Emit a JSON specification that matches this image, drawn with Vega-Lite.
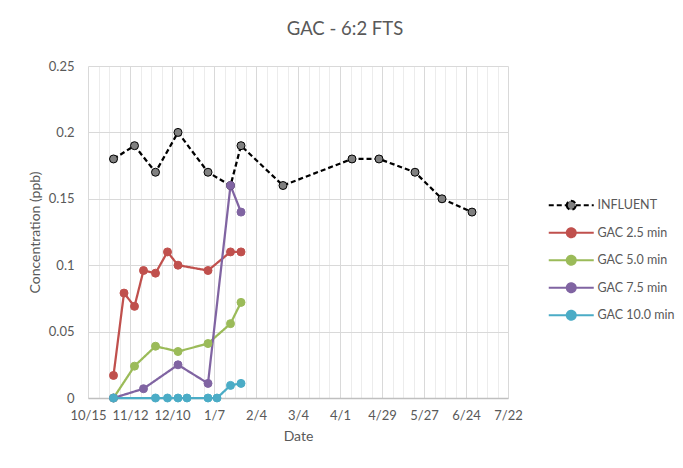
{
  "$schema": "https://vega.github.io/schema/vega-lite/v6.json",
  "width": 420,
  "height": 332,
  "autosize": {"type": "none"},
  "padding": {"left": 88, "top": 66, "right": 175, "bottom": 70},
  "background": "white",
  "config": {
    "font": "Lato",
    "view": {"stroke": null},
    "axis": {"labelFont": "Lato", "titleFont": "Lato", "labelColor": "#595959", "titleColor": "#595959", "labelFontSize": 13, "titleFontSize": 14, "titleFontWeight": "normal", "ticks": false},
    "legend": {"labelFont": "Lato", "labelColor": "#595959", "labelFontSize": 12.5}
  },
  "title": {"text": "GAC - 6:2 FTS", "font": "Lato", "fontSize": 18.5, "fontWeight": "normal", "color": "#595959", "anchor": "middle", "frame": "group", "dx": 47, "offset": 22},
  "data": {"values": [
    {"series": "INFLUENT", "date": "2014/11/01", "value": 0.18},
    {"series": "INFLUENT", "date": "2014/11/15", "value": 0.19},
    {"series": "INFLUENT", "date": "2014/11/29", "value": 0.17},
    {"series": "INFLUENT", "date": "2014/12/14", "value": 0.20},
    {"series": "INFLUENT", "date": "2015/01/03", "value": 0.17},
    {"series": "INFLUENT", "date": "2015/01/18", "value": 0.16},
    {"series": "INFLUENT", "date": "2015/01/25", "value": 0.19},
    {"series": "INFLUENT", "date": "2015/02/22", "value": 0.16},
    {"series": "INFLUENT", "date": "2015/04/09", "value": 0.18},
    {"series": "INFLUENT", "date": "2015/04/27", "value": 0.18},
    {"series": "INFLUENT", "date": "2015/05/21", "value": 0.17},
    {"series": "INFLUENT", "date": "2015/06/08", "value": 0.15},
    {"series": "INFLUENT", "date": "2015/06/28", "value": 0.14},
    {"series": "GAC 2.5 min", "date": "2014/11/01", "value": 0.017},
    {"series": "GAC 2.5 min", "date": "2014/11/08", "value": 0.079},
    {"series": "GAC 2.5 min", "date": "2014/11/15", "value": 0.069},
    {"series": "GAC 2.5 min", "date": "2014/11/21", "value": 0.096},
    {"series": "GAC 2.5 min", "date": "2014/11/29", "value": 0.094},
    {"series": "GAC 2.5 min", "date": "2014/12/07", "value": 0.11},
    {"series": "GAC 2.5 min", "date": "2014/12/14", "value": 0.10},
    {"series": "GAC 2.5 min", "date": "2015/01/03", "value": 0.096},
    {"series": "GAC 2.5 min", "date": "2015/01/18", "value": 0.11},
    {"series": "GAC 2.5 min", "date": "2015/01/25", "value": 0.11},
    {"series": "GAC 5.0 min", "date": "2014/11/01", "value": 0},
    {"series": "GAC 5.0 min", "date": "2014/11/15", "value": 0.024},
    {"series": "GAC 5.0 min", "date": "2014/11/29", "value": 0.039},
    {"series": "GAC 5.0 min", "date": "2014/12/14", "value": 0.035},
    {"series": "GAC 5.0 min", "date": "2015/01/03", "value": 0.041},
    {"series": "GAC 5.0 min", "date": "2015/01/18", "value": 0.056},
    {"series": "GAC 5.0 min", "date": "2015/01/25", "value": 0.072},
    {"series": "GAC 7.5 min", "date": "2014/11/01", "value": 0},
    {"series": "GAC 7.5 min", "date": "2014/11/21", "value": 0.007},
    {"series": "GAC 7.5 min", "date": "2014/12/14", "value": 0.025},
    {"series": "GAC 7.5 min", "date": "2015/01/03", "value": 0.011},
    {"series": "GAC 7.5 min", "date": "2015/01/18", "value": 0.16},
    {"series": "GAC 7.5 min", "date": "2015/01/25", "value": 0.14},
    {"series": "GAC 10.0 min", "date": "2014/11/01", "value": 0},
    {"series": "GAC 10.0 min", "date": "2014/11/29", "value": 0},
    {"series": "GAC 10.0 min", "date": "2014/12/07", "value": 0},
    {"series": "GAC 10.0 min", "date": "2014/12/14", "value": 0},
    {"series": "GAC 10.0 min", "date": "2014/12/20", "value": 0},
    {"series": "GAC 10.0 min", "date": "2015/01/03", "value": 0},
    {"series": "GAC 10.0 min", "date": "2015/01/09", "value": 0},
    {"series": "GAC 10.0 min", "date": "2015/01/18", "value": 0.0095},
    {"series": "GAC 10.0 min", "date": "2015/01/25", "value": 0.011}
  ]},
  "encoding": {
    "x": {
      "field": "date", "type": "temporal", "title": "Date",
      "scale": {"domain": [{"year": 2014, "month": 10, "date": 15}, {"year": 2015, "month": 7, "date": 22}], "nice": false},
      "axis": {
        "values": [
          {"year": 2014, "month": 10, "date": 15}, {"year": 2014, "month": 10, "date": 22}, {"year": 2014, "month": 10, "date": 29},
          {"year": 2014, "month": 11, "date": 5}, {"year": 2014, "month": 11, "date": 12}, {"year": 2014, "month": 11, "date": 19}, {"year": 2014, "month": 11, "date": 26},
          {"year": 2014, "month": 12, "date": 3}, {"year": 2014, "month": 12, "date": 10}, {"year": 2014, "month": 12, "date": 17}, {"year": 2014, "month": 12, "date": 24}, {"year": 2014, "month": 12, "date": 31},
          {"year": 2015, "month": 1, "date": 7}, {"year": 2015, "month": 1, "date": 14}, {"year": 2015, "month": 1, "date": 21}, {"year": 2015, "month": 1, "date": 28},
          {"year": 2015, "month": 2, "date": 4}, {"year": 2015, "month": 2, "date": 11}, {"year": 2015, "month": 2, "date": 18}, {"year": 2015, "month": 2, "date": 25},
          {"year": 2015, "month": 3, "date": 4}, {"year": 2015, "month": 3, "date": 11}, {"year": 2015, "month": 3, "date": 18}, {"year": 2015, "month": 3, "date": 25},
          {"year": 2015, "month": 4, "date": 1}, {"year": 2015, "month": 4, "date": 8}, {"year": 2015, "month": 4, "date": 15}, {"year": 2015, "month": 4, "date": 22}, {"year": 2015, "month": 4, "date": 29},
          {"year": 2015, "month": 5, "date": 6}, {"year": 2015, "month": 5, "date": 13}, {"year": 2015, "month": 5, "date": 20}, {"year": 2015, "month": 5, "date": 27},
          {"year": 2015, "month": 6, "date": 3}, {"year": 2015, "month": 6, "date": 10}, {"year": 2015, "month": 6, "date": 17}, {"year": 2015, "month": 6, "date": 24},
          {"year": 2015, "month": 7, "date": 1}, {"year": 2015, "month": 7, "date": 8}, {"year": 2015, "month": 7, "date": 15}, {"year": 2015, "month": 7, "date": 22}
        ],
        "labelExpr": "round((datum.value - datetime(2014, 9, 15)) / 86400000) % 28 === 0 ? timeFormat(datum.value, '%-m/%-d') : ''",
        "labelOverlap": false,
        "labelFlush": false,
        "labelAlign": "center",
        "labelPadding": 11,
        "titlePadding": 7,
        "grid": true,
        "gridColor": {"condition": {"test": "round((datum.value - datetime(2014, 9, 15)) / 86400000) % 28 === 0", "value": "#d9d9d9"}, "value": "#ececec"},
        "gridWidth": 1,
        "domainColor": "#bfbfbf",
        "domainWidth": 1.5
      }
    },
    "y": {
      "field": "value", "type": "quantitative", "title": "Concentration (ppb)",
      "scale": {"domain": [0, 0.25], "nice": false},
      "axis": {"values": [0, 0.05, 0.1, 0.15, 0.2, 0.25], "format": ".2~f", "domain": false, "gridColor": "#d9d9d9", "labelPadding": 14, "titlePadding": 6}
    }
  },
  "layer": [
    {
      "mark": {"type": "line", "strokeWidth": 2.25},
      "encoding": {
        "stroke": {"field": "series", "type": "nominal", "title": null,
          "scale": {"domain": ["INFLUENT", "GAC 2.5 min", "GAC 5.0 min", "GAC 7.5 min", "GAC 10.0 min"], "range": ["#000000", "#c0504d", "#9bbb59", "#8064a2", "#4bacc6"]},
          "legend": {"orient": "none", "legendX": 477, "legendY": 133, "symbolType": "M -5 0 L -1 0 M 1 0 L 5 0 M -1 0 A 1 1 0 1 0 1 0 A 1 1 0 1 0 -1 0", "symbolSize": 81, "symbolStrokeWidth": 2, "labelOffset": 20, "rowPadding": 9.5, "title": null}},
        "strokeDash": {"field": "series", "type": "nominal", "title": null,
          "scale": {"domain": ["INFLUENT", "GAC 2.5 min", "GAC 5.0 min", "GAC 7.5 min", "GAC 10.0 min"], "range": [[5, 3], [1, 0], [1, 0], [1, 0], [1, 0]]}}
      }
    },
    {
      "mark": {"type": "point", "shape": "circle", "filled": true, "size": 64, "strokeWidth": 1, "opacity": 1},
      "encoding": {
        "stroke": {"field": "series", "type": "nominal", "title": null},
        "fill": {"field": "series", "type": "nominal", "title": null,
          "scale": {"domain": ["INFLUENT", "GAC 2.5 min", "GAC 5.0 min", "GAC 7.5 min", "GAC 10.0 min"], "range": ["#808080", "#c0504d", "#9bbb59", "#8064a2", "#4bacc6"]}}
      }
    }
  ]
}
